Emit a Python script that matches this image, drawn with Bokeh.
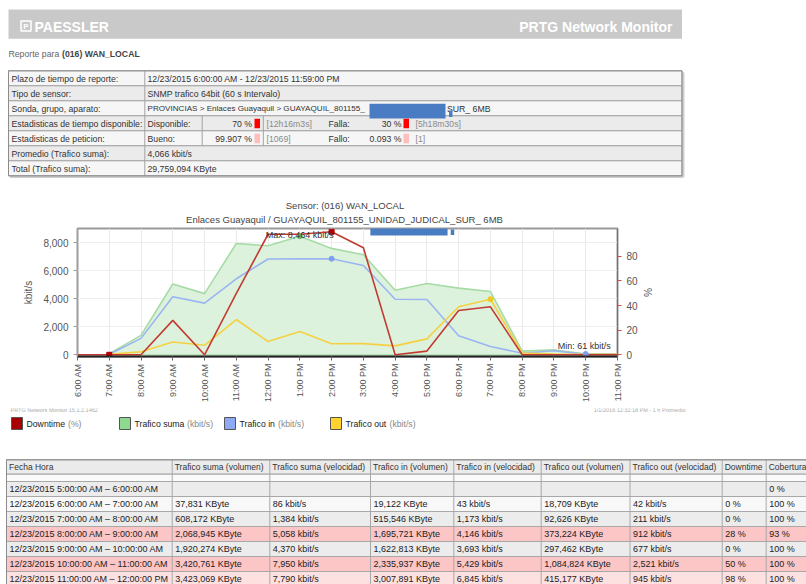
import math
from bokeh.plotting import figure
from bokeh.models import Range1d, LinearAxis, FixedTicker, NumeralTickFormatter
from bokeh.embed import file_html
from bokeh.resources import INLINE
from bokeh.core.properties import value

FONT = "Liberation Sans"
PAGE_W = 806
FS = "8.7px"

# ---------------- chart data ----------------
hours = [6, 7, 8, 9, 10, 11, 12, 13, 14, 15, 16, 17, 18, 19, 20, 21, 22, 23]
hour_labels = ["6:00 AM", "7:00 AM", "8:00 AM", "9:00 AM", "10:00 AM", "11:00 AM",
               "12:00 PM", "1:00 PM", "2:00 PM", "3:00 PM", "4:00 PM", "5:00 PM",
               "6:00 PM", "7:00 PM", "8:00 PM", "9:00 PM", "10:00 PM", "11:00 PM"]
downtime_pct = [0, 0, 0, 28, 0, 50, 98, 98, 100, 87, 0, 3, 36, 39, 0, 0, 0, 0]
traffic_hours = [7, 8, 9, 10, 11, 12, 13, 14, 15, 16, 17, 18, 19, 20, 21, 22, 23]
trafico_suma = [86, 1384, 5058, 4370, 7950, 7790, 8464, 7600, 7140, 4610, 5090, 4760, 4520, 260, 350, 61, 80]
trafico_in = [43, 1173, 4146, 3693, 5429, 6845, 6850, 6860, 6380, 3970, 3950, 1357, 593, 115, 290, 32, 45]
trafico_out = [42, 211, 912, 677, 2521, 945, 1660, 790, 800, 640, 1140, 3430, 3970, 120, 60, 29, 35]
kbit_ticks = [0, 2000, 4000, 6000, 8000]
pct_ticks = [0, 20, 40, 60, 80]

# ---------------- report texts ----------------
info_labels = ["Plazo de tiempo de reporte:", "Tipo de sensor:", "Sonda, grupo, aparato:",
               "Estadisticas de tiempo disponible:", "Estadisticas de peticion:",
               "Promedio (Trafico suma):", "Total (Trafico suma):"]
info_values = ["12/23/2015 6:00:00 AM - 12/23/2015 11:59:00 PM",
               "SNMP trafico 64bit (60 s Intervalo)",
               "",
               "", "", "4,066 kbit/s", "29,759,094 KByte"]
sonda_parts = ["PROVINCIAS > Enlaces Guayaquil > GUAYAQUIL_801155_", "SUR_ 6MB"]
stat_rows = [
    ["Disponible:", "70 %", "[12h16m3s]", "Falla:", "30 %", "[5h18m30s]", "#ff0000"],
    ["Bueno:", "99.907 %", "[1069]", "Fallo:", "0.093 %", "[1]", "#ffbdbd"],
]

table_header = ["Fecha Hora", "Trafico suma (volumen)", "Trafico suma (velocidad)",
                "Trafico in (volumen)", "Trafico in (velocidad)", "Trafico out (volumen)",
                "Trafico out (velocidad)", "Downtime", "Cobertura"]
table_rows = [
    ["12/23/2015 5:00:00 AM \u2013 6:00:00 AM", "", "", "", "", "", "", "", "0 %"],
    ["12/23/2015 6:00:00 AM \u2013 7:00:00 AM", "37,831 KByte", "86 kbit/s", "19,122 KByte", "43 kbit/s", "18,709 KByte", "42 kbit/s", "0 %", "100 %"],
    ["12/23/2015 7:00:00 AM \u2013 8:00:00 AM", "608,172 KByte", "1,384 kbit/s", "515,546 KByte", "1,173 kbit/s", "92,626 KByte", "211 kbit/s", "0 %", "100 %"],
    ["12/23/2015 8:00:00 AM \u2013 9:00:00 AM", "2,068,945 KByte", "5,058 kbit/s", "1,695,721 KByte", "4,146 kbit/s", "373,224 KByte", "912 kbit/s", "28 %", "93 %"],
    ["12/23/2015 9:00:00 AM \u2013 10:00:00 AM", "1,920,274 KByte", "4,370 kbit/s", "1,622,813 KByte", "3,693 kbit/s", "297,462 KByte", "677 kbit/s", "0 %", "100 %"],
    ["12/23/2015 10:00:00 AM \u2013 11:00:00 AM", "3,420,761 KByte", "7,950 kbit/s", "2,335,937 KByte", "5,429 kbit/s", "1,084,824 KByte", "2,521 kbit/s", "50 %", "100 %"],
    ["12/23/2015 11:00:00 AM \u2013 12:00:00 PM", "3,423,069 KByte", "7,790 kbit/s", "3,007,891 KByte", "6,845 kbit/s", "415,177 KByte", "945 kbit/s", "98 %", "100 %"],
]
row_fills = ["#ececec", "#f8f8f8", "#ececec", "#fcc6c6", "#ececec", "#fcc6c6", "#fde0e0"]

legend_names = ["Downtime", "Trafico suma", "Trafico in", "Trafico out"]
legend_units = ["(%)", "(kbit/s)", "(kbit/s)", "(kbit/s)"]

# ---------------- colours ----------------
C_RED = "#c23b32"
C_GREEN_LINE = "#a6dba6"
C_GREEN_FILL = "#ddf2dd"
C_BLUE = "#9bb4f2"
C_YELLOW = "#f5d043"
SWATCH = ["#a80000", "#8fd88f", "#8eaaf5", "#ffd22e"]


def page_fig(y0, y1):
    p = figure(width=PAGE_W, height=int(y1 - y0), x_range=Range1d(0, PAGE_W), y_range=Range1d(y1, y0),
               output_backend="svg", toolbar_location=None, min_border=0,
               min_border_left=0, min_border_right=0, min_border_top=0, min_border_bottom=0,
               x_axis_location=None, y_axis_location=None, outline_line_color=None,
               background_fill_color="white", border_fill_color="white")
    p.grid.visible = False
    return p


def txt(p, x, y, s, size=FS, color="#333333", align="left", bold=False, baseline="middle"):
    p.text(x=[x], y=[y], text=[s], text_font=value(FONT), text_font_size=size,
           text_color=color, text_align=align, text_baseline=baseline,
           text_font_style="bold" if bold else "normal")


def box(p, l, r, t, b, fill=None, line=None, lw=1):
    p.quad(left=[l], right=[r], top=[t], bottom=[b], fill_color=fill,
           line_color=line, line_width=lw)


# =============== top part (header, info table, chart title) ===============
f1 = page_fig(0, 226)
box(f1, 8, 681.5, 9, 38.3, fill="#c9c9c9")
box(f1, 20.5, 30.5, 20.5, 30.5, fill=None, line="white", lw=1.5)
txt(f1, 25.5, 26, "P", size="8px", color="white", align="center", bold=True)
txt(f1, 34, 26, "PAESSLER", size="14px", color="white", bold=True)
txt(f1, 672, 26, "PRTG Network Monitor", size="14px", color="white", align="right", bold=True)

txt(f1, 8, 53, "Reporte para", color="#666666")
txt(f1, 61.5, 53, "(016) WAN_LOCAL", color="#444444", bold=True)

# info table
T0, RH = 70.3, 15.0
n_info = len(info_labels)
f1.line([683, 683], [T0 + 1.5, T0 + n_info * RH + 1.5], line_color="#cfcfcf", line_width=2)
f1.line([9.5, 683], [T0 + n_info * RH + 1.2, T0 + n_info * RH + 1.2], line_color="#cfcfcf", line_width=2)
for i in range(n_info):
    top = T0 + i * RH
    box(f1, 8, 681.5, top, top + RH, fill="#f6f6f6" if i % 2 == 0 else "#ebebeb", line="#a3a3a3")
    txt(f1, 11, top + 7.7, info_labels[i])
    if info_values[i]:
        txt(f1, 147, top + 7.7, info_values[i])
f1.line([144.3, 144.3], [T0, T0 + n_info * RH], line_color="#a3a3a3")
# sonda row (device name partly hidden under a redaction blob)
txt(f1, 147, T0 + 2 * RH + 7.7, sonda_parts[0], size="8.1px")
txt(f1, 446.5, T0 + 2 * RH + 7.7, sonda_parts[1])
box(f1, 369, 445, 103.3, 118, fill="#4a7cc4")
box(f1, 448.5, 452, 110, 116.5, fill="#4a7cc4")
for j, row in enumerate(stat_rows):
    top = T0 + (3 + j) * RH
    f1.line([201.7, 201.7], [top, top + RH], line_color="#a3a3a3")
    f1.line([262.8, 262.8], [top, top + RH], line_color="#a3a3a3")
    txt(f1, 147, top + 7.7, row[0])
    txt(f1, 251.5, top + 7.7, row[1], align="right")
    box(f1, 254, 259.5, top + 3, top + 12.5, fill=row[6])
    txt(f1, 266, top + 7.7, row[2], color="#8a8a8a")
    txt(f1, 328, top + 7.7, row[3])
    txt(f1, 401, top + 7.7, row[4], align="right")
    box(f1, 403, 408.5, top + 3, top + 12.5, fill=row[6])
    txt(f1, 415, top + 7.7, row[5], color="#8a8a8a")
box(f1, 8, 681.5, T0, T0 + n_info * RH, fill=None, line="#8c8c8c")

# chart titles
txt(f1, 344.5, 205, "Sensor: (016) WAN_LOCAL", size="9.5px", color="#444444", align="center")
txt(f1, 344, 218.5, "Enlaces Guayaquil / GUAYAQUIL_801155_UNIDAD_JUDICAL_SUR_ 6MB",
    size="9.5px", color="#444444", align="center")

# =============== chart ===============
KB_MIN, KB_MAX = -121, 9021
KB_PER_PCT = 87.86
c = figure(width=PAGE_W, height=182, x_range=Range1d(6, 23), y_range=Range1d(KB_MIN, KB_MAX),
           output_backend="svg", toolbar_location=None,
           min_border_left=77, min_border_right=189, min_border_top=2, min_border_bottom=52,
           outline_line_color="#9a9a9a", outline_line_width=2,
           background_fill_color="white", border_fill_color="white")
c.extra_y_ranges = {"pct": Range1d(KB_MIN / KB_PER_PCT, KB_MAX / KB_PER_PCT)}

xa = c.xaxis[0]
xa.ticker = FixedTicker(ticks=hours)
xa.major_label_overrides = {h: lab for h, lab in zip(hours, hour_labels)}
xa.major_label_orientation = math.pi / 2
xa.major_label_text_font = FONT
xa.major_label_text_font_size = "9px"
xa.major_label_text_color = "#555555"
xa.major_label_standoff = 3
xa.axis_line_color = "#222222"
xa.axis_line_width = 2
xa.major_tick_out = 4
xa.major_tick_in = 0
xa.major_tick_line_color = "#666666"
xa.minor_tick_line_color = None

ya = c.yaxis[0]
ya.ticker = FixedTicker(ticks=kbit_ticks)
ya.formatter = NumeralTickFormatter(format="0,0")
ya.axis_label = "kbit/s"
ya.axis_label_text_font = FONT
ya.axis_label_text_font_size = "10px"
ya.axis_label_text_font_style = "normal"
ya.axis_label_text_color = "#555555"
ya.axis_label_standoff = 6
ya.major_label_text_font = FONT
ya.major_label_text_font_size = "10px"
ya.major_label_text_color = "#555555"
ya.axis_line_color = "#a0a0a0"
ya.major_tick_line_color = "#a0a0a0"
ya.major_tick_out = 4
ya.major_tick_in = 0
ya.minor_tick_line_color = None

ra = LinearAxis(y_range_name="pct", ticker=FixedTicker(ticks=pct_ticks), axis_label="%")
ra.axis_label_text_font = FONT
ra.axis_label_text_font_size = "10px"
ra.axis_label_text_font_style = "normal"
ra.axis_label_text_color = "#555555"
ra.axis_label_standoff = 1
ra.major_label_text_font = FONT
ra.major_label_text_font_size = "10px"
ra.major_label_text_color = "#555555"
ra.axis_line_color = "#d04848"
ra.major_tick_line_color = "#d04848"
ra.major_tick_out = 4
ra.major_tick_in = 0
ra.minor_tick_line_color = None
c.add_layout(ra, "right")

c.xgrid.grid_line_color = "#e9e9e9"
c.ygrid.grid_line_color = "#eeeeee"

zeros = [0] * len(traffic_hours)
c.varea(x=traffic_hours, y1=zeros, y2=trafico_suma, fill_color=C_GREEN_FILL)
c.line(traffic_hours, zeros, line_color=C_GREEN_LINE, line_width=1.2)
c.line(traffic_hours, trafico_suma, line_color=C_GREEN_LINE, line_width=1.6)
c.line(traffic_hours, trafico_in, line_color=C_BLUE, line_width=1.6)
c.line(traffic_hours, trafico_out, line_color=C_YELLOW, line_width=1.6)
c.line(hours, downtime_pct, line_color=C_RED, line_width=1.6, y_range_name="pct")

# min / max markers
i_smax = trafico_suma.index(max(trafico_suma))
i_smin = trafico_suma.index(min(trafico_suma))
i_imax = trafico_in.index(max(trafico_in))
i_omax = trafico_out.index(max(trafico_out))
i_dmax = downtime_pct.index(max(downtime_pct))
c.scatter([traffic_hours[i_smax]], [trafico_suma[i_smax]], size=5, color="#6cc46c")
c.scatter([traffic_hours[i_imax]], [trafico_in[i_imax]], size=5, color="#7f9ff0")
c.scatter([traffic_hours[i_smin]], [trafico_suma[i_smin]], size=5, color="#7f9ff0")
c.scatter([traffic_hours[i_omax]], [trafico_out[i_omax]], size=5, color="#f2c81e")
c.scatter([hours[i_dmax]], [downtime_pct[i_dmax]], size=5, marker="square", color="#b00000",
          y_range_name="pct")
c.scatter([traffic_hours[0]], [downtime_pct[1]], size=5, marker="square", color="#b00000",
          y_range_name="pct")

c.text(x=[traffic_hours[i_smax]], y=[trafico_suma[i_smax] + 120],
       text=["Max: {:,} kbit/s".format(trafico_suma[i_smax])],
       text_font=value(FONT), text_font_size="9px", text_color="#333333",
       text_align="center", text_baseline="middle")
c.text(x=[traffic_hours[i_smin] - 0.05], y=[trafico_suma[i_smin] + 540],
       text=["Min: {:,} kbit/s".format(trafico_suma[i_smin])],
       text_font=value(FONT), text_font_size="9px", text_color="#333333",
       text_align="center", text_baseline="middle")

# redaction blob over the title (covers top of plot)
c.quad(left=[15.22], right=[17.65], top=[KB_MAX + 200], bottom=[8520], fill_color="#4a7cc4", line_color=None)
c.quad(left=[17.75], right=[17.86], top=[8950], bottom=[8560], fill_color="#4a7cc4", line_color=None)

# =============== bottom part (footer, legend, hourly table) ===============
f3 = page_fig(408, 584)
txt(f3, 10, 409.5, "PRTG Network Monitor 15.1.2.1462", size="5.5px", color="#aaaaaa")
txt(f3, 685, 409.5, "1/1/2016 12:32:18 PM - 1 h Promedio", size="5.5px", color="#aaaaaa", align="right")

sw_x = [11, 119, 224, 330]
unit_x = [67.5, 186.5, 277.5, 389]
for k in range(4):
    box(f3, sw_x[k], sw_x[k] + 11, 417, 429, fill=SWATCH[k], line="#555555")
    txt(f3, sw_x[k] + 15, 423.5, legend_names[k], color="#222222")
    txt(f3, unit_x[k], 423.5, legend_units[k], color="#888888")

col_x = [6, 171.7, 269.3, 370, 453.3, 540.7, 629.5, 721.7, 765.7, 830]
H_TOP, H_BOT, BLANK_BOT, DRH = 459.3, 473.7, 481.0, 15.0
box(f3, col_x[0], col_x[-1], H_TOP, H_BOT, fill="#ebebeb", line="#9a9a9a")
for k, h in enumerate(table_header):
    txt(f3, col_x[k] + 2.5, (H_TOP + H_BOT) / 2 + 0.3, h, size="8.5px", color="#333333")
box(f3, col_x[0], col_x[-1], H_BOT, BLANK_BOT, fill="#fafafa", line="#a8a8a8")
for r, row in enumerate(table_rows):
    top = BLANK_BOT + r * DRH
    box(f3, col_x[0], col_x[-1], top, top + DRH, fill=row_fills[r], line="#a8a8a8")
    for k, cell in enumerate(row):
        if cell:
            txt(f3, col_x[k] + 3, top + 7.6, cell, size="9px", color="#222222")
for k in range(1, len(col_x) - 1):
    f3.line([col_x[k], col_x[k]], [H_TOP, BLANK_BOT + len(table_rows) * DRH], line_color="#a8a8a8")
f3.line([col_x[0], col_x[0]], [H_TOP, 600], line_color="#8c8c8c")
f3.line([col_x[0], col_x[-1]], [H_TOP, H_TOP], line_color="#8c8c8c")

open("out.html", "w").write(file_html([f1, c, f3], INLINE))
